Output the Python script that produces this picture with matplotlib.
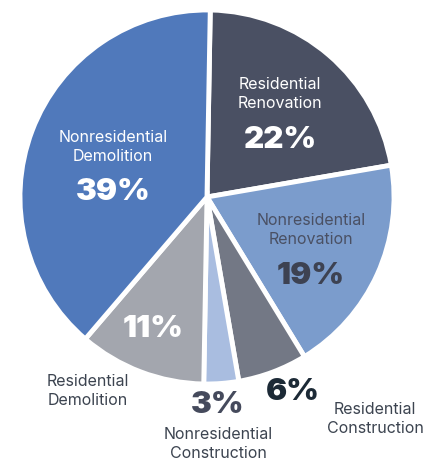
import matplotlib.pyplot as plt

labels = ['Residential\nRenovation', 'Nonresidential\nRenovation', 'Residential\nConstruction',
          'Nonresidential\nConstruction', 'Residential\nDemolition', 'Nonresidential\nDemolition']
shares = [22, 19, 6, 3, 11, 39]
colors = ['#4a5063', '#7b9ccc', '#737885', '#a9bde0', '#a3a6ae', '#5079bb']
explode = [0.015, 0.015, 0.0, 0.0, 0.0, 0.02]

plt.rcParams['font.family'] = ['Inter', 'DejaVu Sans']

fig = plt.figure(figsize=(4.41, 4.65), dpi=100)
ax = fig.add_axes([0, 0, 1, 1])

# pie in pixel space; y is flipped so go counterclockwise in data to get clockwise on screen
ax.pie(shares, colors=colors, startangle=-89, counterclock=True, explode=explode,
       radius=187, center=(207, 197), frame=True,
       wedgeprops=dict(edgecolor='white', linewidth=3.5))
ax.set_xlim(0, 441)
ax.set_ylim(465, 0)
ax.set_aspect('equal')
ax.axis('off')

name_kw = dict(ha='center', va='center', fontsize=11.5, linespacing=1.3)
pct_kw = dict(ha='center', va='center', fontsize=22.5, fontweight='black')

# inside labels
ax.text(280, 94, labels[0], color='white', **name_kw)
ax.text(280, 140, f'{shares[0]}%', color='white', **pct_kw)
ax.text(311, 230, labels[1], color='#4a5063', **name_kw)
ax.text(311, 276, f'{shares[1]}%', color='#3d4252', **pct_kw)
ax.text(113, 147, labels[5], color='white', **name_kw)
ax.text(113, 192, f'{shares[5]}%', color='white', **pct_kw)
ax.text(153, 329, f'{shares[4]}%', color='white', **pct_kw)

# outside labels
ax.text(293, 392, f'{shares[2]}%', color='#1c2a36', **pct_kw)
ax.text(375, 419, labels[2], color='#3c4450', **name_kw)
ax.text(218, 405, f'{shares[3]}%', color='#454a5c', **pct_kw)
ax.text(218, 444, labels[3], color='#3c4450', **name_kw)
ax.text(88, 391, labels[4], color='#3c4450', **name_kw)

plt.savefig('out.png', dpi=100)
